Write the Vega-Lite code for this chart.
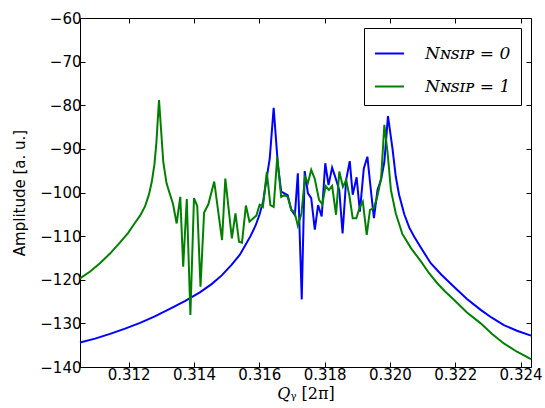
{
  "$schema": "https://vega.github.io/schema/vega-lite/v6.json",
  "width": 451,
  "height": 349,
  "autosize": {"type": "none"},
  "padding": {"left": 80, "top": 18, "right": 14, "bottom": 41},
  "background": "white",
  "config": {
    "view": {"stroke": "black", "strokeWidth": 1},
    "axis": {"grid": false, "domain": false, "tickColor": "black", "tickSize": -5, "tickWidth": 1, "labelColor": "black", "labelFont": "DejaVu Sans", "labelFontSize": 15, "titleColor": "black", "titleFontWeight": "normal"}
  },
  "datasets": {
    "spec": [
      {"q": 0.31051, "amp": -134.4, "s": "0"},
      {"q": 0.31097, "amp": -133.5, "s": "0"},
      {"q": 0.31143, "amp": -132.4, "s": "0"},
      {"q": 0.31189, "amp": -131.2, "s": "0"},
      {"q": 0.31235, "amp": -129.9, "s": "0"},
      {"q": 0.3128, "amp": -128.4, "s": "0"},
      {"q": 0.31326, "amp": -126.7, "s": "0"},
      {"q": 0.31372, "amp": -124.9, "s": "0"},
      {"q": 0.31418, "amp": -122.9, "s": "0"},
      {"q": 0.31454, "amp": -121.0, "s": "0"},
      {"q": 0.31485, "amp": -119.0, "s": "0"},
      {"q": 0.31515, "amp": -116.6, "s": "0"},
      {"q": 0.3154, "amp": -114.3, "s": "0"},
      {"q": 0.31558, "amp": -112.0, "s": "0"},
      {"q": 0.31573, "amp": -110.0, "s": "0"},
      {"q": 0.31589, "amp": -107.5, "s": "0"},
      {"q": 0.31601, "amp": -105.0, "s": "0"},
      {"q": 0.31612, "amp": -102.0, "s": "0"},
      {"q": 0.31621, "amp": -97.5, "s": "0"},
      {"q": 0.31632, "amp": -92.2, "s": "0"},
      {"q": 0.31644, "amp": -80.6, "s": "0"},
      {"q": 0.31657, "amp": -93.7, "s": "0"},
      {"q": 0.31667, "amp": -99.8, "s": "0"},
      {"q": 0.31677, "amp": -100.2, "s": "0"},
      {"q": 0.31687, "amp": -100.6, "s": "0"},
      {"q": 0.31698, "amp": -104.0, "s": "0"},
      {"q": 0.31709, "amp": -105.2, "s": "0"},
      {"q": 0.31718, "amp": -95.6, "s": "0"},
      {"q": 0.3173, "amp": -124.5, "s": "0"},
      {"q": 0.31739, "amp": -95.1, "s": "0"},
      {"q": 0.31749, "amp": -100.2, "s": "0"},
      {"q": 0.31759, "amp": -101.3, "s": "0"},
      {"q": 0.3177, "amp": -108.5, "s": "0"},
      {"q": 0.3178, "amp": -102.9, "s": "0"},
      {"q": 0.31791, "amp": -105.5, "s": "0"},
      {"q": 0.31802, "amp": -93.3, "s": "0"},
      {"q": 0.31812, "amp": -98.3, "s": "0"},
      {"q": 0.31823, "amp": -94.3, "s": "0"},
      {"q": 0.31835, "amp": -97.0, "s": "0"},
      {"q": 0.31845, "amp": -99.5, "s": "0"},
      {"q": 0.31855, "amp": -109.4, "s": "0"},
      {"q": 0.31866, "amp": -97.1, "s": "0"},
      {"q": 0.31877, "amp": -92.8, "s": "0"},
      {"q": 0.31886, "amp": -100.5, "s": "0"},
      {"q": 0.31898, "amp": -96.5, "s": "0"},
      {"q": 0.31908, "amp": -104.4, "s": "0"},
      {"q": 0.3192, "amp": -94.5, "s": "0"},
      {"q": 0.31931, "amp": -91.8, "s": "0"},
      {"q": 0.31941, "amp": -99.0, "s": "0"},
      {"q": 0.31951, "amp": -105.9, "s": "0"},
      {"q": 0.31962, "amp": -99.4, "s": "0"},
      {"q": 0.31973, "amp": -97.0, "s": "0"},
      {"q": 0.31983, "amp": -93.0, "s": "0"},
      {"q": 0.31994, "amp": -82.5, "s": "0"},
      {"q": 0.32008, "amp": -90.0, "s": "0"},
      {"q": 0.32018, "amp": -96.4, "s": "0"},
      {"q": 0.32028, "amp": -100.5, "s": "0"},
      {"q": 0.32044, "amp": -105.0, "s": "0"},
      {"q": 0.32059, "amp": -108.0, "s": "0"},
      {"q": 0.32074, "amp": -110.1, "s": "0"},
      {"q": 0.32096, "amp": -112.8, "s": "0"},
      {"q": 0.32125, "amp": -116.2, "s": "0"},
      {"q": 0.32157, "amp": -118.8, "s": "0"},
      {"q": 0.32196, "amp": -121.6, "s": "0"},
      {"q": 0.32236, "amp": -124.4, "s": "0"},
      {"q": 0.32278, "amp": -126.9, "s": "0"},
      {"q": 0.32312, "amp": -128.7, "s": "0"},
      {"q": 0.32349, "amp": -130.4, "s": "0"},
      {"q": 0.32389, "amp": -131.7, "s": "0"},
      {"q": 0.32432, "amp": -132.8, "s": "0"},

      {"q": 0.31051, "amp": -119.7, "s": "1"},
      {"q": 0.31082, "amp": -118.1, "s": "1"},
      {"q": 0.31112, "amp": -116.2, "s": "1"},
      {"q": 0.31143, "amp": -114.0, "s": "1"},
      {"q": 0.31173, "amp": -111.5, "s": "1"},
      {"q": 0.31198, "amp": -109.3, "s": "1"},
      {"q": 0.31219, "amp": -107.0, "s": "1"},
      {"q": 0.31235, "amp": -105.3, "s": "1"},
      {"q": 0.3125, "amp": -103.2, "s": "1"},
      {"q": 0.31262, "amp": -100.5, "s": "1"},
      {"q": 0.31271, "amp": -97.5, "s": "1"},
      {"q": 0.31279, "amp": -93.5, "s": "1"},
      {"q": 0.31285, "amp": -88.5, "s": "1"},
      {"q": 0.31289, "amp": -83.5, "s": "1"},
      {"q": 0.31293, "amp": -78.8, "s": "1"},
      {"q": 0.31306, "amp": -93.0, "s": "1"},
      {"q": 0.31316, "amp": -97.9, "s": "1"},
      {"q": 0.31336, "amp": -102.7, "s": "1"},
      {"q": 0.31347, "amp": -107.1, "s": "1"},
      {"q": 0.31358, "amp": -101.0, "s": "1"},
      {"q": 0.31367, "amp": -117.0, "s": "1"},
      {"q": 0.31378, "amp": -101.5, "s": "1"},
      {"q": 0.31389, "amp": -128.1, "s": "1"},
      {"q": 0.314, "amp": -101.3, "s": "1"},
      {"q": 0.3141, "amp": -103.1, "s": "1"},
      {"q": 0.3142, "amp": -121.6, "s": "1"},
      {"q": 0.31431, "amp": -104.6, "s": "1"},
      {"q": 0.31444, "amp": -102.7, "s": "1"},
      {"q": 0.31462, "amp": -97.5, "s": "1"},
      {"q": 0.31486, "amp": -110.9, "s": "1"},
      {"q": 0.31496, "amp": -96.8, "s": "1"},
      {"q": 0.31516, "amp": -110.5, "s": "1"},
      {"q": 0.31527, "amp": -104.8, "s": "1"},
      {"q": 0.31538, "amp": -111.3, "s": "1"},
      {"q": 0.31547, "amp": -111.5, "s": "1"},
      {"q": 0.31559, "amp": -103.0, "s": "1"},
      {"q": 0.3157, "amp": -106.7, "s": "1"},
      {"q": 0.31591, "amp": -105.3, "s": "1"},
      {"q": 0.31601, "amp": -102.8, "s": "1"},
      {"q": 0.31611, "amp": -103.3, "s": "1"},
      {"q": 0.31623, "amp": -95.3, "s": "1"},
      {"q": 0.31634, "amp": -102.9, "s": "1"},
      {"q": 0.31644, "amp": -103.3, "s": "1"},
      {"q": 0.31655, "amp": -91.8, "s": "1"},
      {"q": 0.31667, "amp": -101.0, "s": "1"},
      {"q": 0.31677, "amp": -100.6, "s": "1"},
      {"q": 0.31687, "amp": -101.0, "s": "1"},
      {"q": 0.31698, "amp": -104.0, "s": "1"},
      {"q": 0.31708, "amp": -104.5, "s": "1"},
      {"q": 0.31718, "amp": -107.6, "s": "1"},
      {"q": 0.31729, "amp": -104.9, "s": "1"},
      {"q": 0.3174, "amp": -96.4, "s": "1"},
      {"q": 0.31749, "amp": -97.8, "s": "1"},
      {"q": 0.31759, "amp": -94.8, "s": "1"},
      {"q": 0.3177, "amp": -96.9, "s": "1"},
      {"q": 0.31783, "amp": -101.7, "s": "1"},
      {"q": 0.31793, "amp": -102.7, "s": "1"},
      {"q": 0.31803, "amp": -98.5, "s": "1"},
      {"q": 0.31813, "amp": -99.4, "s": "1"},
      {"q": 0.31823, "amp": -98.5, "s": "1"},
      {"q": 0.31835, "amp": -105.1, "s": "1"},
      {"q": 0.31845, "amp": -95.2, "s": "1"},
      {"q": 0.31856, "amp": -98.7, "s": "1"},
      {"q": 0.31866, "amp": -97.1, "s": "1"},
      {"q": 0.31876, "amp": -100.8, "s": "1"},
      {"q": 0.31886, "amp": -105.9, "s": "1"},
      {"q": 0.31897, "amp": -105.9, "s": "1"},
      {"q": 0.31908, "amp": -103.3, "s": "1"},
      {"q": 0.31917, "amp": -102.1, "s": "1"},
      {"q": 0.31929, "amp": -109.7, "s": "1"},
      {"q": 0.31939, "amp": -104.0, "s": "1"},
      {"q": 0.3195, "amp": -103.6, "s": "1"},
      {"q": 0.3196, "amp": -101.4, "s": "1"},
      {"q": 0.31973, "amp": -96.8, "s": "1"},
      {"q": 0.31983, "amp": -84.5, "s": "1"},
      {"q": 0.31993, "amp": -91.0, "s": "1"},
      {"q": 0.32003, "amp": -99.4, "s": "1"},
      {"q": 0.32018, "amp": -104.8, "s": "1"},
      {"q": 0.32038, "amp": -109.5, "s": "1"},
      {"q": 0.32065, "amp": -112.8, "s": "1"},
      {"q": 0.32095, "amp": -115.8, "s": "1"},
      {"q": 0.3212, "amp": -118.5, "s": "1"},
      {"q": 0.32145, "amp": -120.8, "s": "1"},
      {"q": 0.32169, "amp": -122.7, "s": "1"},
      {"q": 0.32196, "amp": -124.6, "s": "1"},
      {"q": 0.32236, "amp": -127.5, "s": "1"},
      {"q": 0.32278, "amp": -130.0, "s": "1"},
      {"q": 0.32312, "amp": -132.4, "s": "1"},
      {"q": 0.32349, "amp": -134.6, "s": "1"},
      {"q": 0.32389, "amp": -136.5, "s": "1"},
      {"q": 0.32432, "amp": -138.2, "s": "1"}
    ]
  },
  "data": {"name": "spec"},
  "resolve": {"axis": {"x": "independent", "y": "independent"}},
  "layer": [
    {
      "mark": {"type": "line", "strokeWidth": 2, "strokeJoin": "miter"},
      "encoding": {
        "x": {"field": "q", "type": "quantitative",
          "scale": {"domain": [0.31051, 0.32432], "nice": false, "zero": false},
          "axis": {"orient": "bottom", "values": [0.312, 0.314, 0.316, 0.318, 0.32, 0.322, 0.324], "format": ".3f", "labelPadding": 5,
            "title": "𝑄ᵧ [2π]", "titleFont": "DejaVu Serif", "titleFontSize": 16, "titleX": 225.5, "titleY": 26, "titleBaseline": "middle", "titleAlign": "center"}},
        "y": {"field": "amp", "type": "quantitative",
          "scale": {"domain": [-140, -60], "nice": false, "zero": false},
          "axis": {"orient": "left", "values": [-140, -130, -120, -110, -100, -90, -80, -70, -60], "labelPadding": 4,
            "title": "Amplitude [a. u.]", "titleFont": "DejaVu Sans", "titleFontSize": 15, "titleX": -61, "titleY": 174.5, "titleAngle": -90, "titleBaseline": "middle", "titleAlign": "center"}},
        "color": {"field": "s", "type": "nominal",
          "scale": {"domain": ["0", "1"], "range": ["#0000ff", "#008000"]},
          "legend": {"title": null, "orient": "top-right", "offset": 10, "symbolType": "stroke", "symbolSize": 841, "symbolStrokeWidth": 2,
            "labelExpr": "'𝑁ɴꜱɪᴘ = ' + datum.label", "labelFont": "DejaVu Serif", "labelFontStyle": "italic", "labelFontSize": 17, "labelColor": "black",
            "labelOffset": 20, "rowPadding": 9, "padding": 10, "strokeColor": "black", "fillColor": "white", "cornerRadius": 0}}
      }
    },
    {
      "mark": {"type": "point", "opacity": 0},
      "encoding": {
        "x": {"field": "q", "type": "quantitative",
          "scale": {"domain": [0.31051, 0.32432], "nice": false, "zero": false},
          "axis": {"orient": "top", "values": [0.312, 0.314, 0.316, 0.318, 0.32, 0.322, 0.324], "labels": false, "title": null}},
        "y": {"field": "amp", "type": "quantitative",
          "scale": {"domain": [-140, -60], "nice": false, "zero": false},
          "axis": {"orient": "right", "values": [-140, -130, -120, -110, -100, -90, -80, -70, -60], "labels": false, "title": null}}
      }
    }
  ]
}
